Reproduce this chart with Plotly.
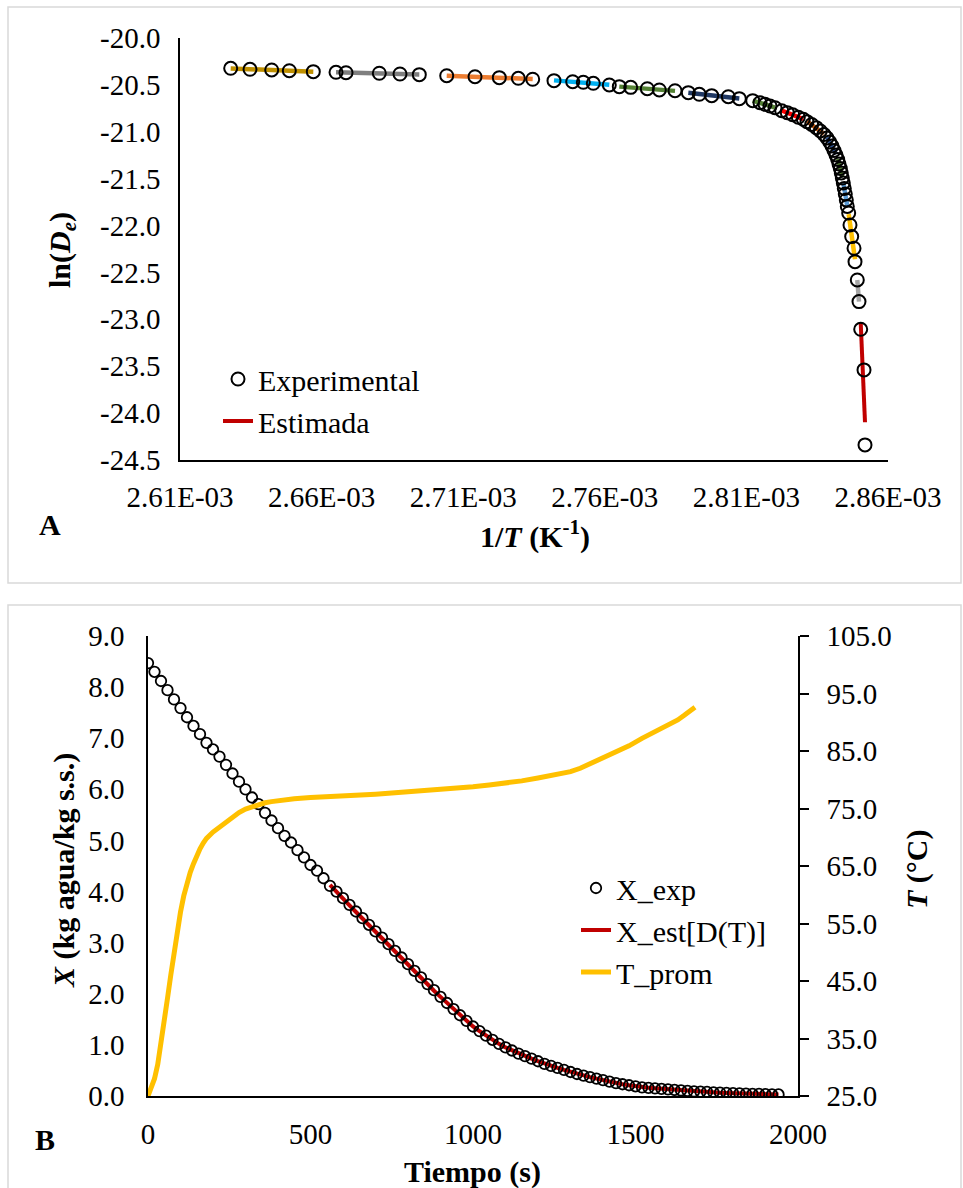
import numpy as np
import plotly.graph_objects as go

W, H = 963, 1188
FONT = "Liberation Serif"

# ---------------- Panel A data ----------------
inv_T = [
    2.62790e-3, 2.63472e-3, 2.64238e-3, 2.64860e-3, 2.65707e-3,
    2.66509e-3, 2.66862e-3, 2.68038e-3, 2.68768e-3, 2.69450e-3,
    2.70418e-3, 2.71417e-3, 2.72275e-3, 2.72946e-3, 2.73454e-3,
    2.74206e-3, 2.74867e-3, 2.75241e-3, 2.75594e-3, 2.76159e-3,
    2.76512e-3, 2.76915e-3, 2.77501e-3, 2.77925e-3, 2.78479e-3,
    2.78949e-3, 2.79337e-3, 2.79775e-3, 2.80361e-3, 2.80749e-3,
    2.81223e-3, 2.81480e-3, 2.81657e-3, 2.81833e-3, 2.82010e-3,
    2.82247e-3, 2.82444e-3, 2.82635e-3, 2.82833e-3, 2.83009e-3,
    2.83140e-3, 2.83306e-3, 2.83468e-3, 2.83610e-3, 2.83740e-3,
    2.83846e-3, 2.83942e-3, 2.84023e-3, 2.84093e-3, 2.84164e-3,
    2.84224e-3, 2.84270e-3, 2.84316e-3, 2.84351e-3, 2.84387e-3,
    2.84422e-3, 2.84457e-3, 2.84492e-3, 2.84528e-3, 2.84563e-3,
    2.84612e-3, 2.84658e-3, 2.84718e-3, 2.84800e-3, 2.84835e-3,
    2.84916e-3, 2.84976e-3,
    2.85036e-3, 2.85153e-3, 2.85188e-3,
]
ln_De = [
    -20.323, -20.334, -20.341, -20.349, -20.359,
    -20.366, -20.370, -20.376, -20.384, -20.391,
    -20.402, -20.413, -20.423, -20.430, -20.440,
    -20.455, -20.466, -20.472, -20.483, -20.501,
    -20.519, -20.526, -20.541, -20.554, -20.562,
    -20.583, -20.600, -20.615, -20.626, -20.647,
    -20.668, -20.690, -20.707, -20.725, -20.743,
    -20.775, -20.796, -20.818, -20.845, -20.867,
    -20.892, -20.922, -20.956, -20.991, -21.029,
    -21.066, -21.109, -21.151, -21.199, -21.247,
    -21.295, -21.343, -21.391, -21.439, -21.493,
    -21.546, -21.604, -21.663, -21.727, -21.796,
    -21.866, -21.994, -22.118, -22.242, -22.385,
    -22.580, -22.811,
    -23.106, -23.539, -24.339,
]
group_sizes = [5, 5, 5, 5, 5, 5, 5, 5, 5, 5, 5, 5, 5, 2, 3]
group_colors = ["#BF9000", "#7F7F7F", "#ED7D31", "#00B0F0", "#548235",
                "#1F3864", "#548235", "#FF0000", "#C55A11", "#2F5597",
                "#548235", "#5B9BD5", "#FFC000", "#A5A5A5", "#C00000"]
a_xtick_vals = [2.61e-3, 2.66e-3, 2.71e-3, 2.76e-3, 2.81e-3, 2.86e-3]
a_xtick_text = ["2.61E-03", "2.66E-03", "2.71E-03", "2.76E-03", "2.81E-03", "2.86E-03"]
a_ytick_vals = [-20.0, -20.5, -21.0, -21.5, -22.0, -22.5, -23.0, -23.5, -24.0, -24.5]
a_ytick_text = ["-20.0", "-20.5", "-21.0", "-21.5", "-22.0", "-22.5", "-23.0", "-23.5", "-24.0", "-24.5"]

# ---------------- Panel B data ----------------
t_exp = [0, 20, 40, 60, 80, 100, 120, 140, 160, 180, 200, 220, 240, 260, 280, 300,
         320, 340, 360, 380, 400, 420, 440, 460, 480, 500, 520, 540, 560, 580, 600,
         620, 640, 660, 680, 700, 720, 740, 760, 780, 800, 820, 840, 860, 880, 900,
         920, 940, 960, 980, 1000, 1020, 1040, 1060, 1080, 1100, 1120, 1140, 1160,
         1180, 1200, 1220, 1240, 1260, 1280, 1300, 1320, 1340, 1360, 1380, 1400,
         1420, 1440, 1460, 1480, 1500, 1520, 1540, 1560, 1580, 1600, 1620, 1640,
         1660, 1680, 1700, 1720, 1740, 1760, 1780, 1800, 1820, 1840, 1860, 1880,
         1900, 1920, 1940]
X_exp = [8.47, 8.30, 8.12, 7.94, 7.76, 7.59, 7.41, 7.24, 7.08, 6.91, 6.78, 6.64, 6.48,
         6.31, 6.15, 6.00, 5.84, 5.71, 5.54, 5.39, 5.24, 5.09, 4.96, 4.81, 4.67, 4.52,
         4.41, 4.26, 4.11, 4.00, 3.87, 3.74, 3.61, 3.48, 3.35, 3.22, 3.10, 2.97, 2.84,
         2.71, 2.58, 2.45, 2.32, 2.19, 2.07, 1.94, 1.82, 1.70, 1.58, 1.47, 1.36, 1.27,
         1.18, 1.10, 1.02, 0.95, 0.89, 0.83, 0.78, 0.73, 0.68, 0.63, 0.59, 0.55, 0.51,
         0.47, 0.43, 0.40, 0.37, 0.34, 0.31, 0.28, 0.25, 0.23, 0.21, 0.19, 0.17, 0.16,
         0.15, 0.14, 0.13, 0.12, 0.11, 0.10, 0.09, 0.085, 0.08, 0.07, 0.065, 0.06,
         0.055, 0.05, 0.045, 0.04, 0.04, 0.035, 0.03, 0.03]
t_est = [560, 580, 600, 620, 640, 660, 680, 700, 720, 740, 760, 780, 800, 820, 840,
         860, 880, 900, 920, 940, 960, 980, 1000, 1020, 1040, 1060, 1080, 1100, 1120,
         1140, 1160, 1180, 1200, 1220, 1240, 1260, 1280, 1300, 1320, 1340, 1360, 1380,
         1400, 1420, 1440, 1460, 1480, 1500, 1520, 1540, 1560, 1580, 1600, 1620, 1640,
         1660, 1680, 1700, 1720, 1740, 1760, 1780, 1800, 1820, 1840, 1860, 1880, 1900,
         1920, 1940]
X_est = [4.13, 3.99, 3.86, 3.73, 3.60, 3.47, 3.34, 3.21, 3.09, 2.96, 2.83, 2.70, 2.57,
         2.44, 2.31, 2.19, 2.06, 1.94, 1.82, 1.70, 1.58, 1.47, 1.36, 1.27, 1.18, 1.10,
         1.02, 0.95, 0.89, 0.83, 0.78, 0.73, 0.68, 0.63, 0.59, 0.55, 0.51, 0.47, 0.43,
         0.40, 0.37, 0.34, 0.31, 0.28, 0.25, 0.23, 0.21, 0.19, 0.17, 0.16, 0.15, 0.14,
         0.13, 0.12, 0.11, 0.10, 0.09, 0.085, 0.08, 0.07, 0.065, 0.06, 0.055, 0.05,
         0.045, 0.04, 0.04, 0.035, 0.03, 0.03]
t_T = [0, 10, 20, 30, 40, 50, 60, 70, 80, 90, 100, 110, 120, 130, 140, 150, 160, 170,
       180, 200, 220, 240, 260, 280, 300, 320, 340, 360, 380, 400, 450, 500, 550, 600,
       650, 700, 750, 800, 850, 900, 950, 1000, 1050, 1100, 1150, 1200, 1250, 1300,
       1330, 1360, 1400, 1440, 1480, 1520, 1560, 1600, 1630, 1650, 1683]
T_prom = [25.0, 26.5, 28.0, 30.5, 34.0, 38.0, 42.0, 46.0, 50.0, 53.8, 57.0, 59.8, 62.0,
          63.9, 65.4, 66.8, 68.0, 69.0, 69.8, 70.9, 71.8, 72.7, 73.6, 74.3, 74.9, 75.3,
          75.7, 76.0, 76.2, 76.4, 76.7, 76.9, 77.0, 77.1, 77.3, 77.5, 77.7, 77.9, 78.0,
          78.2, 78.5, 78.8, 79.1, 79.4, 79.8, 80.3, 80.8, 81.4, 82.0, 82.8, 83.7, 84.8,
          85.9, 87.2, 88.3, 89.5, 90.4, 91.2, 92.6]
b_xtick_vals = [0, 500, 1000, 1500, 2000]
b_xtick_text = ["0", "500", "1000", "1500", "2000"]
b_ytick_vals = [0, 1, 2, 3, 4, 5, 6, 7, 8, 9]
b_ytick_text = ["0.0", "1.0", "2.0", "3.0", "4.0", "5.0", "6.0", "7.0", "8.0", "9.0"]
b_y2tick_vals = [25, 35, 45, 55, 65, 75, 85, 95, 105]
b_y2tick_text = ["25.0", "35.0", "45.0", "55.0", "65.0", "75.0", "85.0", "95.0", "105.0"]


def px_x(p):
    return p / W


def px_y(p):
    return 1 - p / H


fig = go.Figure()

# ---- Panel A: trend lines for each group (linear fits of the points) ----
xa = np.array(inv_T)
ya = np.array(ln_De)
start = 0
for k, (n, col) in enumerate(zip(group_sizes, group_colors)):
    gx = xa[start:start + n]
    gy = ya[start:start + n]
    slope, icpt = np.polyfit(gx, gy, 1)
    lx = np.array([gx.min(), gx.max()])
    last = k == len(group_sizes) - 1
    fig.add_trace(go.Scatter(
        x=lx, y=slope * lx + icpt, mode="lines", xaxis="x", yaxis="y",
        line=dict(color=col, width=4.5 if not last else 4),
        name="Estimada", showlegend=last, legend="legend", legendrank=2,
        hoverinfo="skip"))
    start += n

fig.add_trace(go.Scatter(
    x=inv_T, y=ln_De, mode="markers", xaxis="x", yaxis="y", name="Experimental",
    marker=dict(symbol="circle-open", size=13, color="black", line=dict(width=2)),
    legend="legend", legendrank=1))

# ---- Panel B ----
fig.add_trace(go.Scatter(
    x=t_est, y=X_est, mode="lines", xaxis="x2", yaxis="y2", name="X_est[D(T)]",
    line=dict(color="#C00000", width=4), legend="legend2", legendrank=2))
fig.add_trace(go.Scatter(
    x=t_exp, y=X_exp, mode="markers", xaxis="x2", yaxis="y2", name="X_exp",
    marker=dict(symbol="circle-open", size=10.5, color="black", line=dict(width=1.8)),
    legend="legend2", legendrank=1))
fig.add_trace(go.Scatter(
    x=t_T, y=T_prom, mode="lines", xaxis="x2", yaxis="y3", name="T_prom",
    line=dict(color="#FFC000", width=5), legend="legend2", legendrank=3))

tickfont = dict(family=FONT, size=29, color="black")
axis_common = dict(showline=True, linecolor="black", linewidth=1.5, showgrid=False,
                   zeroline=False, ticks="", tickfont=tickfont, automargin=False)

fig.update_layout(
    template="none",
    width=W, height=H, margin=dict(l=0, r=0, t=0, b=0, pad=0, autoexpand=False),
    paper_bgcolor="white", plot_bgcolor="rgba(0,0,0,0)",
    font=dict(family=FONT, color="black"),
    xaxis=dict(domain=[px_x(180), px_x(888)], anchor="y", range=[2.61e-3, 2.86e-3],
               tickvals=a_xtick_vals, ticktext=a_xtick_text, ticklabelstandoff=10,
               **axis_common),
    yaxis=dict(domain=[px_y(460), px_y(38)], anchor="x", range=[-24.5, -20.0],
               tickvals=a_ytick_vals, ticktext=a_ytick_text, ticklabelstandoff=12,
               **axis_common),
    xaxis2=dict(domain=[px_x(148), px_x(798)], anchor="y2", range=[0, 2000],
                tickvals=b_xtick_vals, ticktext=b_xtick_text, ticklabelstandoff=11,
                **axis_common),
    yaxis2=dict(domain=[px_y(1096), px_y(636)], anchor="x2", range=[0, 9],
                tickvals=b_ytick_vals, ticktext=b_ytick_text, ticklabelstandoff=16,
                **axis_common),
    yaxis3=dict(overlaying="y2", anchor="x2", side="right", range=[25, 105],
                tickvals=b_y2tick_vals, ticktext=b_y2tick_text, automargin=False,
                showline=True, linecolor="black", linewidth=1.5, showgrid=False,
                zeroline=False, ticks="outside", ticklen=9, tickwidth=1.5,
                tickcolor="black", tickfont=tickfont, ticklabelstandoff=12),
    legend=dict(x=px_x(218), y=px_y(353), xanchor="left", yanchor="top",
                font=dict(family=FONT, size=30, color="black"),
                bgcolor="rgba(0,0,0,0)", tracegroupgap=0),
    legend2=dict(x=px_x(576), y=px_y(862), xanchor="left", yanchor="top",
                 font=dict(family=FONT, size=30, color="black"),
                 bgcolor="rgba(0,0,0,0)", tracegroupgap=0),
    showlegend=True,
)

# panel frames
fig.add_shape(type="rect", xref="paper", yref="paper",
              x0=px_x(8), x1=px_x(961), y0=px_y(583), y1=px_y(7),
              line=dict(color="#D9D9D9", width=1.5), fillcolor="rgba(0,0,0,0)", layer="below")
fig.add_shape(type="rect", xref="paper", yref="paper",
              x0=px_x(8), x1=px_x(961), y0=px_y(1192), y1=px_y(605),
              line=dict(color="#D9D9D9", width=1.5), fillcolor="rgba(0,0,0,0)", layer="below")

title_font = dict(family=FONT, size=30, color="black")
annots = [
    dict(text="<b>ln(<i>D</i><sub><i>e</i></sub>)</b>", x=px_x(62), y=px_y(250), textangle=-90),
    dict(text="<b>1/<i>T</i> (K<sup>-1</sup>)</b>", x=px_x(535), y=px_y(535)),
    dict(text="<b>A</b>", x=px_x(50), y=px_y(524)),
    dict(text="<b><i>X</i> (kg agua/kg s.s.)</b>", x=px_x(64), y=px_y(871), textangle=-90),
    dict(text="<b><i>T</i> (°C)</b>", x=px_x(917), y=px_y(870), textangle=-90),
    dict(text="<b>Tiempo (s)</b>", x=px_x(472), y=px_y(1172)),
    dict(text="<b>B</b>", x=px_x(45), y=px_y(1139)),
]
for a in annots:
    fig.add_annotation(xref="paper", yref="paper", showarrow=False,
                       xanchor="center", yanchor="middle", font=title_font, **a)

fig.write_html("out.html")
